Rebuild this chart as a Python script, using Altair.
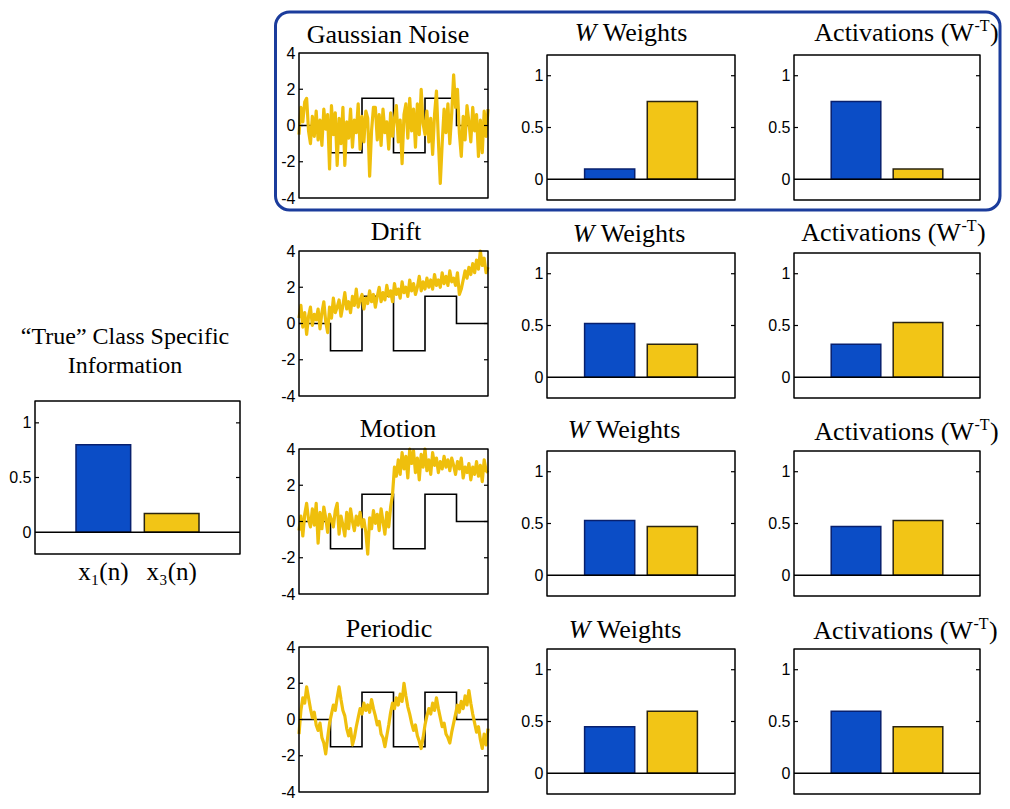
import altair as alt
import pandas as pd

# ---------------- data ----------------
n_max = 600
class_edges = [0, 100, 200, 300, 400, 500, 600]
class_levels = [0, -1.5, 1.5, -1.5, 1.5, 0, 0]

gaussian = [-0.5, 1.0, 0.2, 1.3, 1.5, -0.3, -1.0, 0.5, -0.6, 0.8,
            -0.8, 0.3, -1.1, 0.9, -0.2, 0.6, -2.4, 1.1, -0.5, 0.7,
            -2.2, 0.4, -1.0, 1.0, -2.2, 0.2, -0.7, 0.9, -1.2, 0.3,
            -0.4, 1.2, -1.3, 0.5, -0.9, 0.8, 0.4, -2.8, -0.3, 1.0,
            1.0, -0.8, 0.6, -1.1, 0.9, -0.4, 0.2, -1.3, 0.7, -0.6,
            0.4, 1.1, -0.9, 0.3, -2.1, 0.6, 1.2, -0.7, 1.5, -0.3,
            0.9, -1.2, 1.2, -0.5, 2.0, 0.1, -0.5, 0.8, -0.9, 0.4,
            -1.6, 0.6, 1.9, -0.8, -3.2, -1.0, 0.9, -0.4, 1.2, -1.0,
            0.7, 2.8, 1.0, 2.0, -0.4, -1.7, 0.5, -0.8, 1.1, 0.2,
            -0.9, 1.0, -0.3, 0.6, -1.7, 0.3, -1.5, 0.8, -0.6, 0.9]

drift = [0.3, 1.0, -0.2, 0.6, -0.6, 0.4, 0.9, -0.1, 0.5, 0.2,
         0.8, -0.3, 0.6, 1.2, 0.1, -0.5, 0.9, 0.3, 1.4, 0.6,
         0.9, 1.3, 0.4, 1.0, 1.7, 0.8, 1.2, 0.6, 1.5, 1.0,
         1.9, 0.9, 1.3, 1.6, 0.8, 1.4, 1.1, 1.8, 1.2, 1.6,
         0.9, 1.5, 2.0, 1.2, 1.7, 1.3, 2.1, 1.5, 1.8, 1.2,
         2.2, 1.6, 1.9, 1.4, 2.3, 1.7, 2.0, 1.5, 2.4, 1.8,
         2.2, 1.6, 2.0, 2.6, 1.8, 2.3, 1.9, 2.5, 2.0, 2.4,
         1.9, 2.7, 2.1, 2.4, 2.0, 2.8, 2.2, 2.6, 2.1, 2.9,
         2.3, 2.5, 2.1, 2.8, 1.6, 1.9, 2.4, 2.9, 2.5, 3.1,
         2.7, 3.3, 2.8, 3.5, 3.0, 4.0, 3.2, 3.6, 2.8, 3.1]

motion = [-0.5, 0.3, -0.8, 0.4, 1.0, 0.1, -0.3, 0.7, -0.2, 1.0,
          -1.2, 0.5, -0.4, 0.8, 0.2, -0.6, 0.4, 0.1, -0.3, 0.6,
          1.0, -0.7, 0.3, -0.2, -0.8, 0.5, -0.4, 0.7, 0.0, -0.5,
          0.3, -0.2, 0.5, -0.3, 0.1, -0.6, -1.8, 0.2, -0.4, 0.6,
          -0.1, 0.4, -0.5, 0.7, 0.0, -0.7, 0.5, -0.3, 0.8, 1.5,
          3.0, 2.5, 3.4, 2.6, 3.8, 2.9, 3.6, 2.4, 4.0, 3.2,
          3.9, 2.7, 3.5, 2.3, 3.7, 3.0, 4.0, 2.8, 3.4, 2.6,
          3.8, 3.1, 3.5, 2.7, 3.3, 2.9, 3.6, 3.0, 3.4, 2.8,
          3.5, 3.1, 2.6, 3.3, 2.9, 3.5, 2.4, 3.0, 2.7, 3.2,
          2.3, 3.0, 2.6, 3.3, 2.5, 3.1, 2.2, 3.4, 2.8, 2.7]

periodic = [-0.8, 0.5, 1.2, 0.9, 1.8, 1.2, 0.6, 0.1, 0.4, -0.3,
            -0.6, -0.2, -1.0, -1.3, -1.9, -1.0, -0.2, 0.3, 0.8, 0.5,
            1.2, 1.8, 1.1, 0.5, 0.2, -0.5, -0.9, -0.5, -1.4, -1.0,
            -0.4, 0.1, 0.6, 0.3, 0.9, 0.5, 0.8, 0.4, 1.1, 0.6,
            0.2, -0.3, -0.1, -0.8, -1.0, -1.5, -0.9, -0.3, 0.4, 0.9,
            0.6, 1.2, 0.8, 1.4, 1.0, 2.0, 1.3, 0.7, 0.3, -0.2,
            -0.6, -0.3, -0.9, -1.2, -1.6, -1.0, -0.3, 0.2, 0.6, 0.3,
            0.9, 0.5, 1.2, 0.6, 0.1, -0.4, -0.2, -0.8, -1.0, -1.3,
            -0.7, -0.2, 0.3, 0.8, 0.4, 1.0, 0.6, 1.3, 0.8, 1.6,
            0.9, 0.3, -0.2, -0.7, -0.4, -1.1, -1.6, -0.8, -1.4, -0.5]

row_titles = ["Gaussian Noise", "Drift", "Motion", "Periodic"]
row_series = [gaussian, drift, motion, periodic]
weights_x1 = [0.10, 0.52, 0.53, 0.45]
weights_x3 = [0.75, 0.32, 0.47, 0.60]
act_x1 = [0.75, 0.32, 0.47, 0.60]
act_x3 = [0.10, 0.53, 0.53, 0.45]
true_vals = [0.80, 0.17]
true_labels = ["x\u2081(n)", "x\u2083(n)"]
bar_keys = ["x1", "x3"]
bar_pos = [1, 2]
ts_ticks = [-4, -2, 0, 2, 4]
bar_ticks = [0, 0.5, 1]

# ---------------- style / layout ----------------
BLUE, BLUE_EDGE = "#0B4DC6", "#08206E"
YEL, YEL_EDGE = "#F2C516", "#2A2410"
LINE_Y = "#EFBF0C"
BORDER = "#1B3C9C"
SERIF = "Liberation Serif, Times New Roman, serif"
SANS = "Liberation Sans Narrow, Arial Narrow, Liberation Sans, sans-serif"
W_L, W_TS, W_W, W_A = 205, 189, 188, 186
H = 147          # cell height
TS_H = 145       # time-series frame height (from top of cell)
BAR_TOP = 2      # bar-panel frame starts slightly lower than the time-series frame
ROW_GAP = 51
COL_GAP = 59

ts_title_x = [89, 97, 99, 90]
ts_title_y = [-10, -11, -12, -10]
w_title_x = [85, 83, 78, 79]
w_title_y = [-12, -9, -11, -9]
a_title_x = [112, 99, 112, 111]
a_title_y = [-12, -10, -9, -8]

one = pd.DataFrame({"o": [0]})


def yaxis(vals):
    return alt.Axis(values=vals, ticks=False, domain=False, grid=False, labelPadding=4,
                    labelFont=SANS, labelFontSize=16, labelColor="black", labelFlush=False,
                    labelOverlap=False, labelExpr="'' + datum.value", title=None)


def text(t, x, y, size=26, style="normal", align="center"):
    return alt.Chart(one).mark_text(text=t, font=SERIF, fontSize=size, fontStyle=style,
                                    align=align, baseline="alphabetic", color="black").encode(
        x=alt.value(x), y=alt.value(y))


def frame(w, y0, y1, color="black", sw=1.5, radius=0, x0=0):
    return alt.Chart(one).mark_rect(fillOpacity=0, stroke=color, strokeWidth=sw,
                                    cornerRadius=radius, strokeJoin="round").encode(
        x=alt.value(x0), x2=alt.value(w), y=alt.value(y0), y2=alt.value(y1))


def inner_ticks(vals, w, ys, ax):
    df = pd.DataFrame({"v": vals})
    left = alt.Chart(df).mark_rule(color="black", strokeWidth=1.2).encode(
        x=alt.value(0), x2=alt.value(4), y=alt.Y("v:Q", scale=ys, axis=ax))
    right = alt.Chart(df).mark_rule(color="black", strokeWidth=1.2).encode(
        x=alt.value(w - 4), x2=alt.value(w), y=alt.Y("v:Q", scale=ys, axis=ax))
    return [left, right]


def ts_panel(series, title, tx, ty, first=False):
    xs = alt.Scale(domain=[0, n_max], range=[0, W_TS], nice=False, zero=False)
    ys = alt.Scale(domain=[-4, 4], range=[TS_H, 0], nice=False, zero=False)
    ax = yaxis(ts_ticks)
    step_df = pd.DataFrame({"n": class_edges, "v": class_levels})
    step_n = n_max / (len(series) - 1)
    ser_df = pd.DataFrame({"n": [i * step_n for i in range(len(series))], "v": series})
    step = alt.Chart(step_df).mark_line(interpolate="step-after", color="black", strokeWidth=1.6).encode(
        x=alt.X("n:Q", scale=xs, axis=None), y=alt.Y("v:Q", scale=ys, axis=ax))
    line = alt.Chart(ser_df).mark_line(color=LINE_Y, strokeWidth=3.2, strokeJoin="round").encode(
        x=alt.X("n:Q", scale=xs, axis=None), y=alt.Y("v:Q", scale=ys, axis=ax))
    layers = [step, line, frame(W_TS, 0, TS_H)] + inner_ticks([-2, 0, 2], W_TS, ys, ax)
    layers.append(text(title, tx, ty))
    if first:
        layers.append(frame(701, -41, 157, color=BORDER, sw=3, radius=14, x0=-23.5))
    return alt.layer(*layers).properties(width=W_TS, height=H)


def bar_layers(vals, w, ys, ax):
    xs = alt.Scale(domain=[0, 3], range=[0, w], nice=False, zero=False)
    df = pd.DataFrame({"k": bar_keys, "pos": bar_pos, "v": vals})
    bars = alt.Chart(df).transform_calculate(
        a="datum.pos - 0.4", b="datum.pos + 0.4"
    ).mark_rect(strokeWidth=1.5).encode(
        x=alt.X("a:Q", scale=xs, axis=None), x2="b:Q",
        y=alt.Y("v:Q", scale=ys, axis=ax), y2=alt.Y2(datum=0),
        color=alt.Color("k:N", scale=alt.Scale(domain=bar_keys, range=[BLUE, YEL]), legend=None),
        stroke=alt.Stroke("k:N", scale=alt.Scale(domain=bar_keys, range=[BLUE_EDGE, YEL_EDGE]), legend=None))
    base = alt.Chart(one).mark_rule(color="black", strokeWidth=1.5).encode(
        x=alt.value(0), x2=alt.value(w), y=alt.Y(datum=0, type="quantitative", scale=ys, axis=ax))
    return [bars, base] + inner_ticks([0.5, 1], w, ys, ax), xs


def weight_panel(vals, tx, ty):
    ys = alt.Scale(domain=[-0.2, 1.2], range=[H, BAR_TOP], nice=False, zero=False)
    ax = yaxis(bar_ticks)
    layers, _ = bar_layers(vals, W_W, ys, ax)
    layers.append(frame(W_W, BAR_TOP, H))
    layers.append(text("W", tx - 35.7, ty, style="italic", align="right"))
    layers.append(text("Weights", tx - 29.2, ty, align="left"))
    return alt.layer(*layers).properties(width=W_W, height=H)


def act_panel(vals, tx, ty):
    ys = alt.Scale(domain=[-0.2, 1.2], range=[H, BAR_TOP], nice=False, zero=False)
    ax = yaxis(bar_ticks)
    layers, _ = bar_layers(vals, W_A, ys, ax)
    layers.append(frame(W_A, BAR_TOP, H))
    layers.append(text("Activations (W", tx + 67.9, ty, align="right"))
    layers.append(text("-T", tx + 68.4, ty - 10, size=16, align="left"))
    layers.append(text(")", tx + 84, ty, align="left"))
    return alt.layer(*layers).properties(width=W_A, height=H)


def left_panel():
    # cell starts at page y 250; frame drawn at page y 400..553
    ys = alt.Scale(domain=[-0.2, 1.2], range=[303, 150], nice=False, zero=False)
    ax = yaxis(bar_ticks)
    layers, xs = bar_layers(true_vals, W_L, ys, ax)
    layers.append(frame(W_L, 150, 303))
    layers.append(text("\u201cTrue\u201d Class Specific", 90, 93, size=24))
    layers.append(text("Information", 90, 122, size=24))
    lab_df = pd.DataFrame({"pos": bar_pos, "lab": true_labels})
    labs = alt.Chart(lab_df).mark_text(font=SERIF, fontSize=25, align="center",
                                       baseline="alphabetic", color="black").encode(
        x=alt.X("pos:Q", scale=xs, axis=None), y=alt.value(329), text="lab:N")
    layers.append(labs)
    return alt.layer(*layers).properties(width=W_L, height=H)


def spacer(anchor=False):
    if anchor:
        c = alt.Chart(one).mark_rule(strokeOpacity=0).encode(
            x=alt.value(-26.5), x2=alt.value(-25.5), y=alt.value(-44))
    else:
        c = alt.Chart(one).mark_rule(strokeOpacity=0).encode(
            x=alt.value(0), x2=alt.value(1), y=alt.value(0))
    return c.properties(width=W_L, height=H)


cells = []
for r in range(4):
    if r == 0:
        cells.append(spacer(anchor=True))
    elif r == 1:
        cells.append(left_panel())
    else:
        cells.append(spacer())
    cells.append(ts_panel(row_series[r], row_titles[r], ts_title_x[r], ts_title_y[r], first=(r == 0)))
    cells.append(weight_panel([weights_x1[r], weights_x3[r]], w_title_x[r], w_title_y[r]))
    cells.append(act_panel([act_x1[r], act_x3[r]], a_title_x[r], a_title_y[r]))

chart = alt.concat(*cells, columns=4, spacing={"row": ROW_GAP, "column": COL_GAP}, bounds="flush").properties(
    padding={"left": 0, "top": 0, "right": 0, "bottom": 0}, background="white"
).configure_view(stroke="transparent")

chart.save("out.html", embed_options={"renderer": "svg", "actions": False})
